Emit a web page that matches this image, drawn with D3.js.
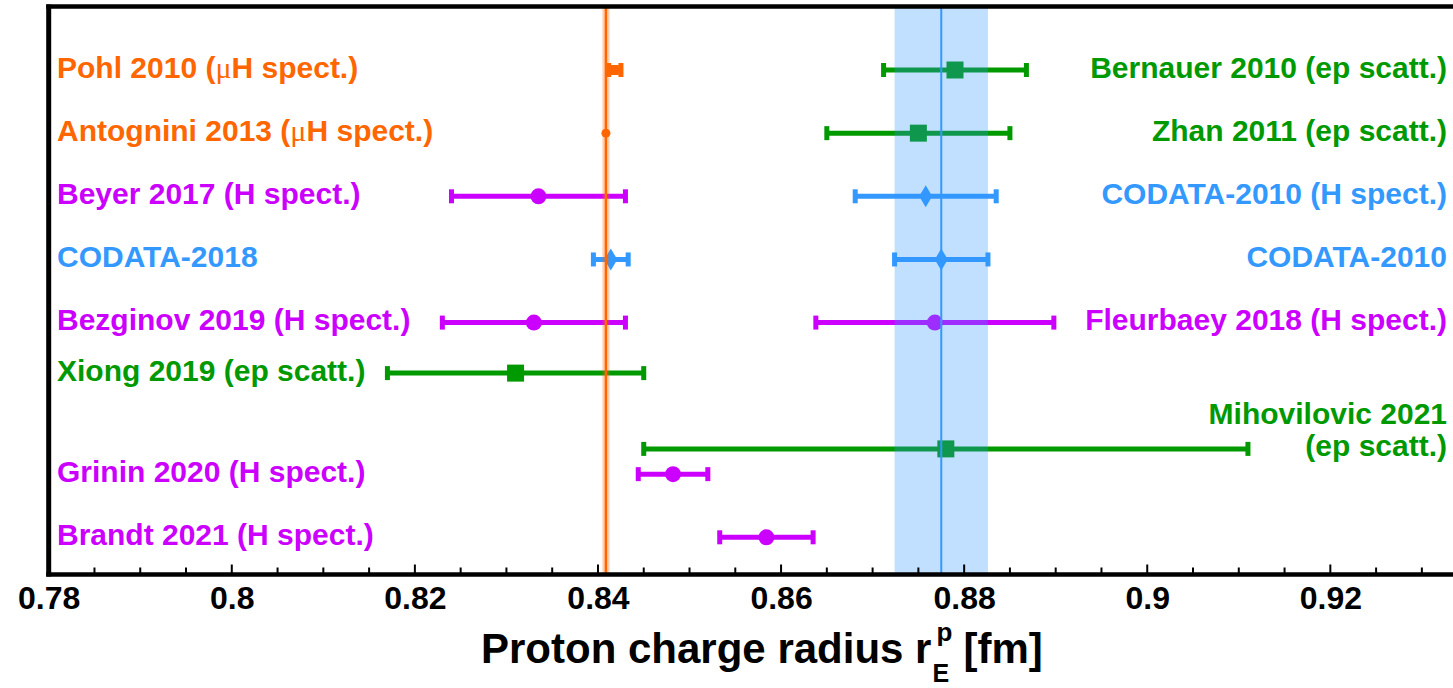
<!DOCTYPE html>
<html>
<head>
<meta charset="utf-8">
<script src="https://cdn.jsdelivr.net/npm/d3@7"></script>
<style>
  html, body { margin: 0; padding: 0; background: #fff; }
  svg { display: block; }
  text { font-family: "Liberation Sans", Arial, sans-serif; font-weight: bold; }
</style>
</head>
<body>
<svg id="chart" width="1453" height="688"></svg>
<script>
// ---------- data ----------
const labels = [
  "Pohl 2010 (μH spect.)", "Antognini 2013 (μH spect.)", "Beyer 2017 (H spect.)",
  "CODATA-2018", "Bezginov 2019 (H spect.)", "Xiong 2019 (ep scatt.)",
  "Grinin 2020 (H spect.)", "Brandt 2021 (H spect.)",
  "Bernauer 2010 (ep scatt.)", "Zhan 2011 (ep scatt.)", "CODATA-2010 (H spect.)",
  "CODATA-2010", "Fleurbaey 2018 (H spect.)", "Mihovilovic 2021|(ep scatt.)"
];
const values  = [0.84184, 0.84087, 0.8335, 0.8414, 0.833, 0.831, 0.8482, 0.8584,
                 0.879, 0.875, 0.8758, 0.8775, 0.8768, 0.878];
const errors  = [0.00067, 0.00039, 0.0095, 0.0019, 0.010, 0.014, 0.0038, 0.0051,
                 0.0078, 0.010, 0.0077, 0.0051, 0.013, 0.033];
const rows    = [0, 1, 2, 3, 4, 4.8, 6.4, 7.4, 0, 1, 2, 3, 4, 6];
const methods = ["muH", "muH", "H", "CODATA", "H", "ep", "H", "H",
                 "ep", "ep", "CODATA", "CODATA", "H", "ep"];
const markers = ["smallSquare", "smallCircle", "circle", "diamond", "circle", "square", "circle", "circle",
                 "square", "square", "diamond", "diamond", "circle", "square"];
const sides   = ["left", "left", "left", "left", "left", "left", "left", "left",
                 "right", "right", "right", "right", "right", "right"];
const muonicBand = [0.84087, 0.00039];
const codataBand = [0.8775, 0.0051];
const majorTicks = [0.78, 0.8, 0.82, 0.84, 0.86, 0.88, 0.9, 0.92];
const tickLabels = ["0.78", "0.8", "0.82", "0.84", "0.86", "0.88", "0.9", "0.92"];

const colors = { muH: "#ff6600", H: "#cc00ff", CODATA: "#3399ff", ep: "#009900" };

(function () {
// ---------- layout ----------
const svg = d3.select("#chart");
const pLeft = 48.7, pRight = 1453, pTop = 6.5, pBottom = 574.5;
const x = d3.scaleLinear().domain([0.78, 0.9334]).range([pLeft, pRight]);
const y = d3.scaleLinear().domain([0, 7.4]).range([70, 537.3]);

const pts = labels.map((l, i) => ({
  label: l, v: values[i], e: errors[i], row: rows[i],
  color: colors[methods[i]], marker: markers[i], side: sides[i]
}));

// error bars + markers
const gPts = svg.append("g");
pts.forEach(d => {
  const g = gPts.append("g").attr("transform", `translate(0,${y(d.row)})`);
  const x0 = x(d.v - d.e), x1 = x(d.v + d.e);
  const small = d.marker === "smallCircle";
  if (!small) {
    g.append("line").attr("x1", x0).attr("x2", x1).attr("y1", 0).attr("y2", 0)
      .attr("stroke", d.color).attr("stroke-width", 5);
    [x0, x1].forEach(xx => g.append("rect").attr("x", xx - 2.5).attr("y", -7)
      .attr("width", 5).attr("height", 14).attr("fill", d.color));
  }
  const cx = x(d.v);
  if (d.marker === "circle") {
    g.append("circle").attr("cx", cx).attr("cy", 0).attr("r", 8).attr("fill", d.color);
  } else if (d.marker === "smallCircle") {
    g.append("circle").attr("cx", cx).attr("cy", 0).attr("r", 4.5).attr("fill", d.color);
  } else if (d.marker === "square") {
    g.append("rect").attr("x", cx - 8.5).attr("y", -8.5).attr("width", 17).attr("height", 17).attr("fill", d.color);
  } else if (d.marker === "smallSquare") {
    g.append("rect").attr("x", cx - 4).attr("y", -5).attr("width", 8).attr("height", 10).attr("fill", d.color);
  } else if (d.marker === "diamond") {
    g.append("path").attr("d", `M${cx},-11 L${cx + 6.5},0 L${cx},11 L${cx - 6.5},0 Z`).attr("fill", d.color);
  }
});

// bands and central lines (on top, semi-transparent)
svg.append("rect").attr("x", x(codataBand[0] - codataBand[1])).attr("y", pTop)
  .attr("width", x(codataBand[0] + codataBand[1]) - x(codataBand[0] - codataBand[1]))
  .attr("height", pBottom - pTop).attr("fill", "#3399ff").attr("fill-opacity", 0.3);
svg.append("line").attr("x1", x(codataBand[0])).attr("x2", x(codataBand[0]))
  .attr("y1", pTop).attr("y2", pBottom).attr("stroke", "#3399ff").attr("stroke-width", 2);
svg.append("rect").attr("x", x(muonicBand[0] - muonicBand[1])).attr("y", pTop)
  .attr("width", x(muonicBand[0] + muonicBand[1]) - x(muonicBand[0] - muonicBand[1]))
  .attr("height", pBottom - pTop).attr("fill", "#ff6600").attr("fill-opacity", 0.3);
svg.append("line").attr("x1", x(muonicBand[0])).attr("x2", x(muonicBand[0]))
  .attr("y1", pTop).attr("y2", pBottom).attr("stroke", "#ff6600").attr("stroke-width", 2.5);

// labels
const gLab = svg.append("g").style("font-size", "30px");
pts.forEach(d => {
  const lines = d.label.split("|");
  const anchor = d.side === "left" ? "start" : "end";
  const tx = d.side === "left" ? 57 : 1447;
  lines.forEach((ln, k) => {
    const ty = y(d.row) - (lines.length - 1 - k) * 32 + 7.5;
    const t = gLab.append("text").attr("x", tx).attr("y", ty).attr("text-anchor", anchor).attr("fill", d.color);
    const parts = ln.split("μ");
    parts.forEach((p, j) => {
      if (j > 0) t.append("tspan").text("μ").style("font-family", "'Liberation Serif', serif").style("font-weight", "normal");
      t.append("tspan").text(p);
    });
  });
});

// axes frame
const xAxis = d3.axisBottom(x).tickValues(majorTicks).tickSize(0).tickFormat((d, i) => tickLabels[i]);
const ax = svg.append("g").attr("transform", `translate(0,${pBottom})`).call(xAxis);
ax.select(".domain").remove();
ax.selectAll("text").attr("dy", 0).attr("y", 34.5).style("font-size", "32px").attr("fill", "#000")
  .style("font-family", "'Liberation Sans', Arial, sans-serif").style("font-weight", "bold");
const minorTicks = d3.range(0, 31).map(i => 0.78 + i * 0.005).filter(v => v <= 0.9334);
svg.append("g").selectAll("line").data(minorTicks).join("line")
  .attr("x1", d => x(d)).attr("x2", d => x(d))
  .attr("y1", pBottom).attr("y2", (d, i) => pBottom - (i % 4 === 0 ? 10 : 7))
  .attr("stroke", "#000").attr("stroke-width", 2);
svg.append("line").attr("x1", pLeft - 2.5).attr("x2", pRight).attr("y1", pBottom).attr("y2", pBottom)
  .attr("stroke", "#000").attr("stroke-width", 4.5);
svg.append("line").attr("x1", pLeft - 2.5).attr("x2", pRight).attr("y1", pTop).attr("y2", pTop)
  .attr("stroke", "#000").attr("stroke-width", 4.5);
svg.append("line").attr("x1", pLeft).attr("x2", pLeft).attr("y1", pTop - 2).attr("y2", pBottom + 2)
  .attr("stroke", "#000").attr("stroke-width", 5);

// axis title
const title = svg.append("text").attr("x", 481).attr("y", 663).style("font-size", "42px").attr("fill", "#000")
  .text("Proton charge radius r");
const tl = title.node().getComputedTextLength();
const sx = 481 + tl + 1;
svg.append("text").attr("x", sx + 4).attr("y", 641).style("font-size", "26px").attr("fill", "#000").text("p");
svg.append("text").attr("x", sx).attr("y", 682).style("font-size", "25px").attr("fill", "#000").text("E");
svg.append("text").attr("x", sx + 31).attr("y", 663).style("font-size", "42px").attr("fill", "#000").text("[fm]");
})();
</script>
</body>
</html>
